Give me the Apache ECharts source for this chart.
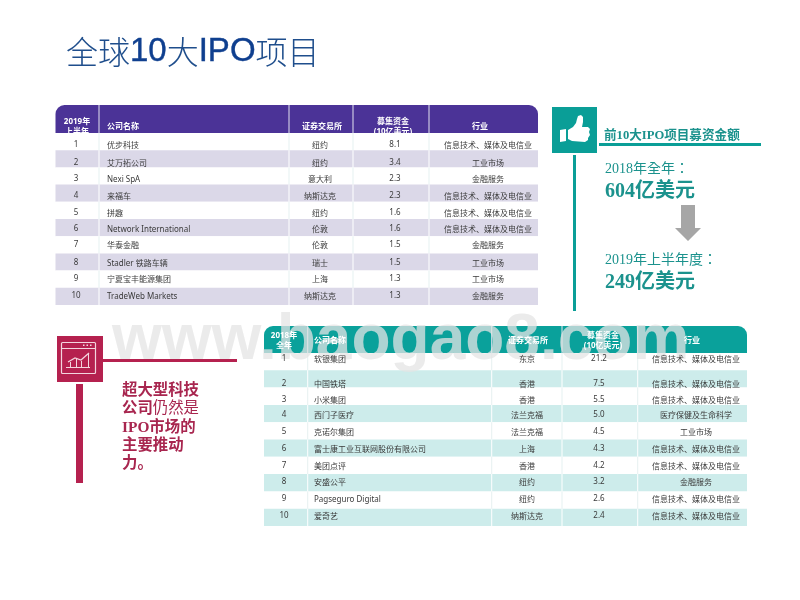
<!DOCTYPE html>
<html>
<head>
<meta charset="utf-8">
<style>html,body{margin:0;padding:0;background:#fff}#chart{width:800px;height:600px}</style>
<script src="https://cdn.jsdelivr.net/npm/echarts@6/dist/echarts.min.js"></script>
</head>
<body>
<div id="chart"></div>
<script>
var SECTOR_TMT = '信息技术、媒体及电信业';
var SECTOR_IND = '工业市场';
var SECTOR_FIN = '金融服务';

var headers2019 = ['2019年\n上半年', '公司名称', '证券交易所', '募集资金\n(10亿美元)', '行业'];
var ranks2019 = [1, 2, 3, 4, 5, 6, 7, 8, 9, 10];
var names2019 = ['优步科技', '艾万拓公司', 'Nexi SpA', '来福车', '拼趣', 'Network International', '华泰金融', 'Stadler 铁路车辆', '宁夏宝丰能源集团', 'TradeWeb Markets'];
var exchanges2019 = ['纽约', '纽约', '意大利', '纳斯达克', '纽约', '伦敦', '伦敦', '瑞士', '上海', '纳斯达克'];
var raised2019 = ['8.1', '3.4', '2.3', '2.3', '1.6', '1.6', '1.5', '1.5', '1.3', '1.3'];
var sectors2019 = [SECTOR_TMT, SECTOR_IND, SECTOR_FIN, SECTOR_TMT, SECTOR_TMT, SECTOR_TMT, SECTOR_FIN, SECTOR_IND, SECTOR_IND, SECTOR_FIN];

var headers2018 = ['2018年\n全年', '公司名称', '证券交易所', '募集资金\n(10亿美元)', '行业'];
var ranks2018 = [1, 2, 3, 4, 5, 6, 7, 8, 9, 10];
var names2018 = ['软银集团', '中国铁塔', '小米集团', '西门子医疗', '克诺尔集团', '富士康工业互联网股份有限公司', '美团点评', '安盛公平', 'Pagseguro Digital', '爱奇艺'];
var exchanges2018 = ['东京', '香港', '香港', '法兰克福', '法兰克福', '上海', '香港', '纽约', '纽约', '纳斯达克'];
var raised2018 = ['21.2', '7.5', '5.5', '5.0', '4.5', '4.3', '4.2', '3.2', '2.6', '2.4'];
var sectors2018 = [SECTOR_TMT, SECTOR_TMT, SECTOR_TMT, '医疗保健及生命科学', SECTOR_IND, SECTOR_TMT, SECTOR_TMT, SECTOR_FIN, SECTOR_TMT, SECTOR_TMT];

var FONT = '"Noto Sans","Noto Sans CJK SC",sans-serif';
var SERIF = '"Liberation Serif","Noto Sans CJK SC",serif';
var SERIF_TC = '"Liberation Serif","Noto Sans CJK TC",serif';

// table layout: the x axis of each grid runs in page pixels
// headTextZ 2 lets the first body row cut the header text off, as in the slide
var table2019 = {
    grid: 0, left: 55.5, right: 538, top: 133, height: 172, headTop: 105,
    edges: [99, 289, 353, 429],
    textX: [76, 107, 320, 395, 488],
    headX: [77, 107, 322, 393, 480],
    headY: 126.5, headTextZ: 2,
    nudge: [3, 4, 3, 3, 2, 1, 0, 1, 0, -1],
    headColor: '#4b3397', band: '#dbd8e8',
    headers: headers2019, ranks: ranks2019, names: names2019,
    exchanges: exchanges2019, raised: raised2019, sectors: sectors2019
};
var table2018 = {
    grid: 1, left: 264, right: 747, top: 353, height: 173, headTop: 326,
    edges: [307.7, 491.7, 562, 637.7],
    textX: [284, 314, 527, 599, 696],
    headX: [284, 314, 528, 603, 692],
    headY: 341, headTextZ: 20,
    nudge: [-3, 5, 3, 1, 1, 1, 0, -1, -1, -2],
    headColor: '#0aa19b', band: '#cdeceb',
    headers: headers2018, ranks: ranks2018, names: names2018,
    exchanges: exchanges2018, raised: raised2018, sectors: sectors2018
};

function cellText(text, x, y, align, bold, color) {
    return {
        type: 'text',
        style: {
            text: text, x: x, y: y, fill: color || '#3a3a3a',
            font: (bold ? 'bold ' : '') + '8px ' + FONT,
            textAlign: align, textVerticalAlign: 'middle', lineHeight: 10
        }
    };
}

function rowData(t) {
    return t.ranks.map(function (r, i) { return [t.left, i]; });
}

function rowSeries(t) {
    return {
        type: 'custom', xAxisIndex: t.grid, yAxisIndex: t.grid, z: 3, clip: false, silent: true,
        data: rowData(t),
        encode: { x: 0, y: 1 },
        renderItem: function (params, api) {
            var i = api.value(1);
            var p = api.coord([t.left, i]);
            var h = api.size([0, 1])[1];
            var right = api.coord([t.right, i])[0];
            var kids = [{
                type: 'rect',
                shape: { x: p[0], y: p[1] - h / 2, width: right - p[0], height: h },
                style: { fill: i % 2 ? t.band : '#fff' }
            }];
            t.edges.forEach(function (e) {
                var x = api.coord([e, i])[0];
                kids.push({
                    type: 'rect',
                    shape: { x: x - 0.5, y: p[1] - h / 2, width: 1, height: h },
                    style: { fill: i % 2 ? '#fff' : '#e6f1f1' }
                });
            });
            return { type: 'group', children: kids };
        }
    };
}

function rowTextSeries(t) {
    return {
        type: 'custom', xAxisIndex: t.grid, yAxisIndex: t.grid, z: 20, clip: false, silent: true,
        data: rowData(t),
        encode: { x: 0, y: 1 },
        renderItem: function (params, api) {
            var i = api.value(1);
            var y = api.coord([t.left, i])[1] + t.nudge[i];
            return {
                type: 'group',
                children: [
                    cellText(String(t.ranks[i]), t.textX[0], y, 'center'),
                    cellText(t.names[i], t.textX[1], y + 1, 'left'),
                    cellText(t.exchanges[i], t.textX[2], y + 1, 'center'),
                    cellText(t.raised[i], t.textX[3], y, 'center'),
                    cellText(t.sectors[i], t.textX[4], y + 1, 'center')
                ]
            };
        }
    };
}

function headSeries(t) {
    return {
        type: 'custom', xAxisIndex: t.grid, yAxisIndex: t.grid, z: 1, clip: false, silent: true,
        data: [[t.left, 0]],
        encode: { x: 0, y: 1 },
        renderItem: function (params, api) {
            var right = api.coord([t.right, 0])[0];
            var kids = [{
                type: 'rect',
                shape: { x: t.left, y: t.headTop, width: right - t.left, height: t.top - t.headTop, r: [9, 9, 0, 0] },
                style: { fill: t.headColor }
            }];
            t.edges.forEach(function (e) {
                kids.push({
                    type: 'rect',
                    shape: { x: api.coord([e, 0])[0] - 0.5, y: t.headTop, width: 1, height: t.top - t.headTop },
                    style: { fill: '#e4e4f0' }
                });
            });
            return { type: 'group', children: kids };
        }
    };
}

function headTextSeries(t) {
    return {
        type: 'custom', xAxisIndex: t.grid, yAxisIndex: t.grid, z: t.headTextZ, clip: false, silent: true,
        data: [[t.left, 0]],
        encode: { x: 0, y: 1 },
        renderItem: function () {
            return {
                type: 'group',
                children: t.headers.map(function (label, c) {
                    return cellText(label, t.headX[c], t.headY, c === 1 ? 'left' : 'center', true, '#fff');
                })
            };
        }
    };
}

function tableGrid(t) {
    return { left: t.left, top: t.top, width: t.right - t.left, height: t.height };
}
function tableX(t) {
    return { type: 'value', gridIndex: t.grid, min: t.left, max: t.right, show: false };
}
function tableY(t) {
    return { type: 'category', gridIndex: t.grid, inverse: true, data: t.ranks, show: false, boundaryGap: true };
}

function label(text, x, y, font, fill) {
    return { type: 'text', z: 10, style: { text: text, x: x, y: y, font: font, fill: fill, textVerticalAlign: 'middle' } };
}
function block(x, y, w, h, fill) {
    return { type: 'rect', z: 10, shape: { x: x, y: y, width: w, height: h }, style: { fill: fill } };
}

var TEAL = '#0a9e97';
var TEAL_TEXT = '#1b928d';
var CRIMSON = '#b5214f';
var CRIMSON_TEXT = '#a8264f';

var graphics = [
    // title
    {
        type: 'text', z: 10,
        style: {
            x: 66, y: 52, textVerticalAlign: 'middle',
            text: '{c|全球}{l|10}{c|大}{l|IPO}{c|项目}',
            rich: {
                c: { font: '300 32px "Noto Sans CJK SC"', fill: '#1f4e8c' },
                l: { font: '33px "Liberation Sans"', fill: '#0f3f8f', stroke: '#0f3f8f', lineWidth: 0.4 }
            }
        }
    },

    // upper right panel
    block(552, 107, 45, 46, TEAL),
    block(599, 143, 162, 3, TEAL),
    block(573, 155, 3, 156, TEAL),
    {
        type: 'polygon', z: 11,
        shape: { points: [[560, 130], [566, 129], [566, 141], [560, 142]] },
        style: { fill: '#fff' }
    },
    {
        type: 'polygon', z: 11,
        shape: {
            points: [[568, 130], [573, 127], [576, 123], [577, 119], [578, 116], [581, 115], [583, 117], [583, 122], [582, 127],
                [588, 127], [590, 129], [589, 132], [590, 135], [588, 138], [588, 140], [585, 142], [572, 141], [568, 139]]
        },
        style: { fill: '#fff' }
    },
    label('前10大IPO项目募资金额', 604, 136, 'bold 12.6px ' + SERIF, TEAL_TEXT),
    label('2018年全年：', 605, 169, '14px ' + SERIF_TC, TEAL_TEXT),
    label('604亿美元', 605, 192, 'bold 20px ' + SERIF, TEAL_TEXT),
    {
        type: 'polygon', z: 10,
        shape: { points: [[681, 205], [695, 205], [695, 228], [701, 228], [688, 241], [675, 228], [681, 228]] },
        style: { fill: '#a6a6a6' }
    },
    label('2019年上半年度：', 605, 260, '14px ' + SERIF_TC, TEAL_TEXT),
    label('249亿美元', 605, 283, 'bold 20px ' + SERIF, TEAL_TEXT),

    // lower left panel
    block(57, 336, 46, 46, CRIMSON),
    block(103, 359, 134, 3, CRIMSON),
    block(76, 384, 7, 99, CRIMSON),
    {
        type: 'rect', z: 11,
        shape: { x: 61.5, y: 342.5, width: 34, height: 31, r: 1 },
        style: { fill: 'none', stroke: '#f3d5de', lineWidth: 1.2 }
    },
    block(62, 348, 33, 1, '#f3d5de'),
    block(83, 344.5, 1.5, 1.5, '#f3d5de'),
    block(86.5, 344.5, 1.5, 1.5, '#f3d5de'),
    block(90, 344.5, 1.5, 1.5, '#f3d5de'),
    block(66, 367, 24, 1, '#f3d5de'),
    {
        type: 'polyline', z: 11,
        shape: { points: [[68, 362], [75, 358], [81, 360], [89, 353]] },
        style: { fill: 'none', stroke: '#f3d5de', lineWidth: 1.2 }
    },
    block(70, 362, 1, 5, '#f3d5de'),
    block(76, 358, 1, 9, '#f3d5de'),
    block(81, 361, 1, 6, '#f3d5de'),
    block(88, 354, 1, 13, '#f3d5de'),
    {
        type: 'text', z: 10,
        style: {
            x: 122, y: 382, textVerticalAlign: 'top',
            text: '{b|超大型科技}\n{b|公司}{r|仍然是}\n{b|IPO市场的}\n{b|主要推动}\n{b|力。}',
            rich: {
                b: { font: 'bold 15.4px ' + SERIF, fill: CRIMSON_TEXT, lineHeight: 18.3 },
                r: { font: '15.4px ' + SERIF, fill: CRIMSON_TEXT, lineHeight: 18.3 }
            }
        }
    },

    // watermark: over the table fills, under all text and rules
    {
        type: 'text', z: 5, silent: true,
        x: 112, y: 309,
        style: {
            text: 'www.baogao8.com', x: 0, y: 0,
            font: 'bold 64px "Liberation Sans"', fill: 'rgba(228,228,228,0.75)'
        }
    }
];

var myChart = echarts.init(document.getElementById('chart'));

myChart.setOption({
    animation: false,
    backgroundColor: '#fff',
    grid: [tableGrid(table2019), tableGrid(table2018)],
    xAxis: [tableX(table2019), tableX(table2018)],
    yAxis: [tableY(table2019), tableY(table2018)],
    series: [
        headSeries(table2019), headTextSeries(table2019), rowSeries(table2019), rowTextSeries(table2019),
        headSeries(table2018), headTextSeries(table2018), rowSeries(table2018), rowTextSeries(table2018)
    ],
    graphic: graphics
});
</script>
</body>
</html>
